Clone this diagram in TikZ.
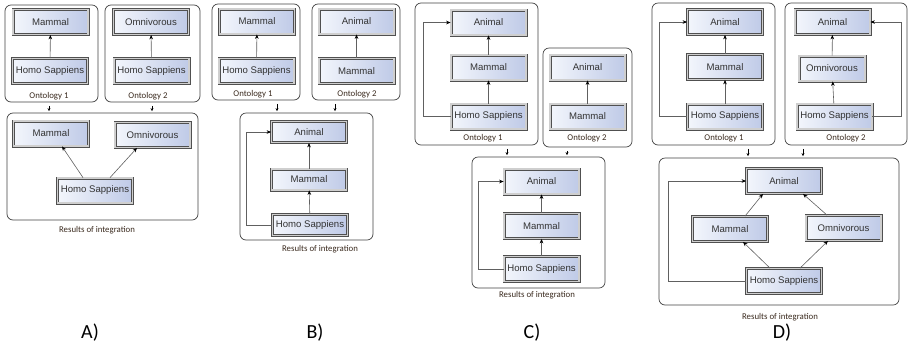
\documentclass[tikz,border=0pt]{standalone}
\usepackage{fontspec}
\setmainfont{Liberation Sans}
\newfontfamily\calibrifont{Carlito}
\usepackage{tikz}
\usetikzlibrary{arrows.meta,positioning}
\definecolor{boxleft}{HTML}{F3F6FC}
\definecolor{boxright}{HTML}{BFCAE7}
\definecolor{boxframe}{HTML}{505050}
\definecolor{boxgap}{HTML}{CFCFCF}
\definecolor{ontoink}{HTML}{3A2A1E}
\tikzset{
	concept/.style={draw=boxframe, line width=0.8pt, double=boxgap, double distance=1.4pt, left color=boxleft, right color=boxright, minimum width=75pt, minimum height=25pt, inner sep=1pt, font=\fontsize{9.6}{11}\selectfont, text=black!80},
	ontobox/.style={draw=black!75, line width=0.7pt, rounded corners=6pt},
	ontolabel/.style={font=\calibrifont\fontsize{8.8}{10}\selectfont, text=ontoink},
	caselabel/.style={font=\calibrifont\fontsize{20}{22}\selectfont},
	isa/.style={draw=gray!75!black, line width=0.6pt, -{Stealth[length=4.5pt,width=3.6pt,black]}},
	merge/.style={line width=0.6pt, -{Stealth[length=3pt,width=3pt]}, shorten <=3.5pt, shorten >=1.5pt}
}
\begin{document}
\begin{tikzpicture}[x=1pt,y=-1pt]
			\useasboundingbox (0,0) rectangle (909,349);
			\node[ontobox, minimum width=93pt, minimum height=97pt] (a1) at (51.5,53.5) {};
			\node[ontobox, minimum width=95pt, minimum height=97pt] (a2) at (152.5,53.5) {};
			\node[ontobox, minimum width=191pt, minimum height=107pt] (ar) at (102.5,166.5) {};
			\node[concept] (a1mam) at (50.5,22) {Mammal};
			\node[concept] (a1hs) at (50,71) {Homo Sappiens};
			\node[concept] (a2omn) at (151,22) {Omnivorous};
			\node[concept] (a2hs) at (151.5,71) {Homo Sappiens};
			\node[concept] (armam) at (51,133.5) {Mammal};
			\node[concept] (aromn) at (152.5,135) {Omnivorous};
			\node[concept] (arhs) at (95,190.5) {Homo Sappiens};
			\node[ontolabel] (a1lab) at (49,96.5) {Ontology 1};
			\node[ontolabel] (a2lab) at (148,96.5) {Ontology 2};
			\node[ontolabel] (arlab) at (97,230) {Results of integration};
			\node[caselabel] (acase) at (90,333) {A)};
			\draw[isa] (a1hs) -- (a1mam);
			\draw[isa] (a2hs) -- (a2omn);
			\draw[isa] ([xshift=-12pt]arhs.north) -- ([xshift=11pt]armam.south);
			\draw[isa] ([xshift=15pt]arhs.north) -- ([xshift=-15.5pt]aromn.south);
			\coordinate (ad1) at (49,0);
			\coordinate (ad2) at (152,0);
			\draw[merge] (a1.south -| ad1) -- (ar.north -| ad1);
			\draw[merge] (a2.south -| ad2) -- (ar.north -| ad2);

			\node[ontobox, minimum width=88pt, minimum height=96pt] (b1) at (256,52) {};
			\node[ontobox, minimum width=88pt, minimum height=96pt] (b2) at (356,52) {};
			\node[ontobox, minimum width=133pt, minimum height=127pt] (br) at (306.5,176.5) {};
			\node[concept] (b1mam) at (257,21.5) {Mammal};
			\node[concept] (b1hs) at (256.5,71) {Homo Sappiens};
			\node[concept] (b2ani) at (356.5,21.5) {Animal};
			\node[concept] (b2mam) at (356.5,71) {Mammal};
			\node[concept, minimum height=21pt] (brani) at (309,132) {Animal};
			\node[concept, minimum height=21pt] (brmam) at (309,179.5) {Mammal};
			\node[concept, minimum height=21pt] (brhs) at (310,225) {Homo Sappiens};
			\node[ontolabel] (b1lab) at (253,94) {Ontology 1};
			\node[ontolabel] (b2lab) at (357,94) {Ontology 2};
			\node[ontolabel] (brlab) at (320,249) {Results of integration};
			\node[caselabel] (bcase) at (315,333) {B)};
			\draw[isa] (b1hs) -- (b1mam);
			\draw[isa] (b2mam) -- (b2ani);
			\draw[isa] (brmam) -- (brani);
			\draw[isa] (brhs) -- (brmam);
			\draw[isa] (brhs.west) -- ++(-26,0) |- (brani.west);
			\coordinate (bd1) at (277,0);
			\coordinate (bd2) at (335,0);
			\draw[merge] (b1.south -| bd1) -- (br.north -| bd1);
			\draw[merge] (b2.south -| bd2) -- (br.north -| bd2);

			\node[ontobox, minimum width=123pt, minimum height=142pt] (c1) at (476.5,74) {};
			\node[ontobox, minimum width=89pt, minimum height=99pt] (c2) at (587.5,97.5) {};
			\node[ontobox, minimum width=133pt, minimum height=131pt] (cr) at (538.5,222.5) {};
			\node[concept] (c1ani) at (488.5,22.5) {Animal};
			\node[concept] (c1mam) at (488.5,67.5) {Mammal};
			\node[concept] (c1hs) at (488.5,116.5) {Homo Sappiens};
			\node[concept] (c2ani) at (587.5,67.5) {Animal};
			\node[concept] (c2mam) at (587.5,116.5) {Mammal};
			\node[concept] (crani) at (541.5,181.5) {Animal};
			\node[concept] (crmam) at (541.5,226) {Mammal};
			\node[concept] (crhs) at (541.5,269) {Homo Sappiens};
			\node[ontolabel] (c1lab) at (483,138) {Ontology 1};
			\node[ontolabel] (c2lab) at (587,138) {Ontology 2};
			\node[ontolabel] (crlab) at (537,295) {Results of integration};
			\node[caselabel] (ccase) at (532,333) {C)};
			\draw[isa] (c1mam) -- (c1ani);
			\draw[isa] (c1hs) -- (c1mam);
			\draw[isa] (c1hs.west) -- ++(-27,0) |- (c1ani.west);
			\draw[isa] (c2mam) -- (c2ani);
			\draw[isa] (crmam) -- (crani);
			\draw[isa] (crhs) -- (crmam);
			\draw[isa] (crhs.west) -- ++(-25.5,0) |- (crani.west);
			\coordinate (cd1) at (507,0);
			\coordinate (cd2) at (567,0);
			\draw[merge] (c1.south -| cd1) -- (cr.north -| cd1);
			\draw[merge] (c2.south -| cd2) -- (cr.north -| cd2);

			\node[ontobox, minimum width=123pt, minimum height=142pt] (d1) at (713.5,74) {};
			\node[ontobox, minimum width=122pt, minimum height=142pt] (d2) at (846,74) {};
			\node[ontobox, minimum width=240pt, minimum height=147pt] (dr) at (779,231.5) {};
			\node[concept] (d1ani) at (725,22) {Animal};
			\node[concept] (d1mam) at (725,67) {Mammal};
			\node[concept] (d1hs) at (725,116.5) {Homo Sappiens};
			\node[concept] (d2ani) at (832.5,22) {Animal};
			\node[concept, minimum width=66pt] (d2omn) at (832,68.5) {Omnivorous};
			\node[concept] (d2hs) at (834.5,116.5) {Homo Sappiens};
			\node[concept] (drani) at (784,181) {Animal};
			\node[concept] (drmam) at (730,229) {Mammal};
			\node[concept] (dromn) at (843.5,228) {Omnivorous};
			\node[concept] (drhs) at (784,281) {Homo Sappiens};
			\node[ontolabel] (d1lab) at (724,138) {Ontology 1};
			\node[ontolabel] (d2lab) at (846,138) {Ontology 2};
			\node[ontolabel] (drlab) at (780,317) {Results of integration};
			\node[caselabel] (dcase) at (782,333) {D)};
			\draw[isa] (d1mam) -- (d1ani);
			\draw[isa] (d1hs) -- (d1mam);
			\draw[isa] (d1hs.west) -- ++(-28,0) |- (d1ani.west);
			\draw[isa] (d2omn) -- (d2ani);
			\draw[isa] (d2hs) -- (d2omn);
			\draw[isa] (d2hs.east) -- ++(29,0) |- (d2ani.east);
			\draw[isa] ([xshift=15pt]drmam.north) -- ([xshift=-21pt]drani.south);
			\draw[isa] ([xshift=-16.5pt]dromn.north) -- ([xshift=19pt]drani.south);
			\draw[isa] ([xshift=-14pt]drhs.north) -- ([xshift=13pt]drmam.south);
			\draw[isa] ([xshift=16pt]drhs.north) -- ([xshift=-15.5pt]dromn.south);
			\draw[isa] (drhs.west) -- ++(-78,0) |- (drani.west);
			\coordinate (dd1) at (748,0);
			\coordinate (dd2) at (803,0);
			\draw[merge] (d1.south -| dd1) -- (dr.north -| dd1);
			\draw[merge] (d2.south -| dd2) -- (dr.north -| dd2);
\end{tikzpicture}
\end{document}
